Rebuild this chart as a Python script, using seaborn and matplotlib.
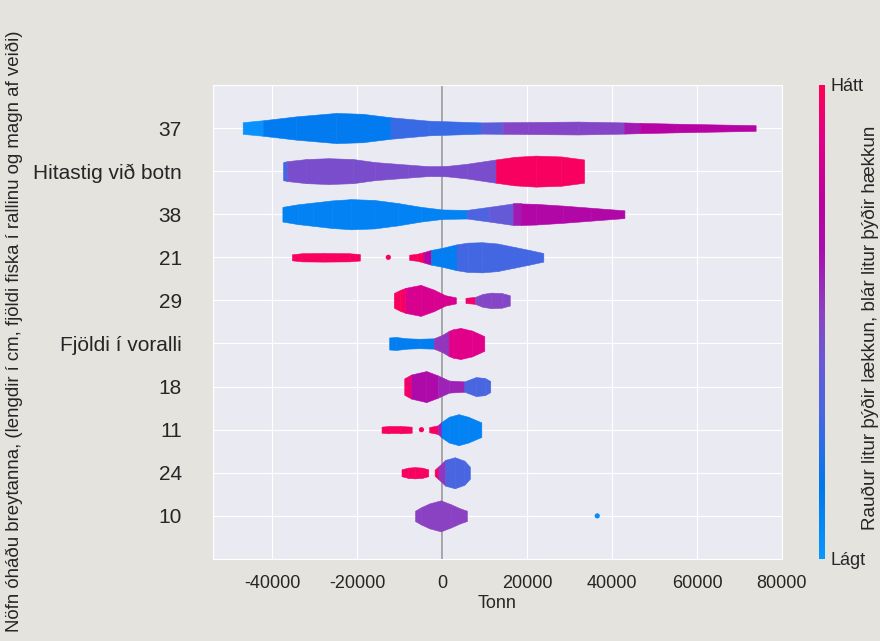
import numpy as np
import pandas as pd
import seaborn as sns
import matplotlib.pyplot as plt
from matplotlib.colors import LinearSegmentedColormap
from matplotlib.cm import ScalarMappable

# features, top to bottom
breytur = ["37", "Hitastig við botn", "38", "21", "29",
           "Fjöldi í voralli", "18", "11", "24", "10"]

# violin outline per feature: list of pieces, Tonn positions of the knots
tonn = {
    "37": [[-47000, -42200, -34400, -25000, -18800, -12200, -3200, 9200, 14300,
            20200, 31900, 42800, 46500, 55300, 73800]],
    "Hitastig við botn": [[-37500, -36600, -32000, -26800, -21000, -15900, -8000,
                           -3260, 1000, 5800, 12600, 17000, 22000, 28000, 33400]],
    "38": [[-37650, -34000, -30400, -26000, -21400, -16000, -10500, -5000, 0,
            5800, 11000, 16650, 18500, 22000, 28400, 35000, 42900]],
    "21": [[-35400, -33000, -28000, -22000, -19400],
           [-7800, -6000, -4400, -2700, 0, 3350, 6000, 9400, 13000, 17000, 20500, 23800]],
    "29": [[-11400, -10000, -8700, -5100, -2000, 700, 3200],
           [5460, 7700, 9500, 11500, 14000, 15900]],
    "Fjöldi í voralli": [[-12500, -10900, -8200, -5500, -2000, 0, 1500, 2500, 4300, 7000, 9900]],
    "18": [[-8950, -7300, -3760, -1070, 1600, 5200, 7900, 10000, 11300]],
    "11": [[-14300, -12500, -10000, -7200],
           [-3100, -1070, -180, 1600, 3850, 6100, 9200]],
    "24": [[-9600, -8000, -6450, -4800, -3300],
           [-1800, -900, 720, 2950, 5200, 6500]],
    "10": [[-6400, -5000, -3000, -360, 2000, 4300, 5800]],
}

# half thickness at each knot (in row units)
breidd = {
    "37": [[0.135, 0.18, 0.27, 0.35, 0.33, 0.25, 0.17, 0.13, 0.135,
            0.14, 0.15, 0.13, 0.12, 0.10, 0.066]],
    "Hitastig við botn": [[0.21, 0.23, 0.28, 0.30, 0.28, 0.21, 0.15,
                           0.115, 0.12, 0.17, 0.27, 0.33, 0.36, 0.34, 0.27]],
    "38": [[0.17, 0.23, 0.27, 0.32, 0.35, 0.33, 0.26, 0.17, 0.11,
            0.10, 0.17, 0.25, 0.25, 0.24, 0.2, 0.15, 0.09]],
    "21": [[0.07, 0.095, 0.1, 0.095, 0.075],
           [0.06, 0.08, 0.12, 0.17, 0.22, 0.3, 0.34, 0.35, 0.32, 0.24, 0.17, 0.1]],
    "29": [[0.17, 0.24, 0.29, 0.36, 0.25, 0.12, 0.07],
           [0.06, 0.08, 0.15, 0.18, 0.17, 0.12]],
    "Fjöldi í voralli": [[0.14, 0.15, 0.12, 0.11, 0.12, 0.2, 0.29, 0.33, 0.36, 0.3, 0.17]],
    "18": [[0.19, 0.28, 0.36, 0.26, 0.14, 0.12, 0.22, 0.2, 0.13]],
    "11": [[0.07, 0.085, 0.085, 0.07],
           [0.06, 0.1, 0.18, 0.3, 0.36, 0.3, 0.17]],
    "24": [[0.08, 0.12, 0.13, 0.12, 0.08],
           [0.07, 0.15, 0.3, 0.36, 0.28, 0.14]],
    "10": [[0.12, 0.2, 0.29, 0.36, 0.27, 0.17, 0.12]],
}

# feature value (0 = low, 1 = high) between consecutive knots
gildi = {
    "37": [[0.02, 0.13, 0.13, 0.13, 0.13, 0.27, 0.27, 0.38, 0.5, 0.5, 0.5, 0.62, 0.72, 0.72]],
    "Hitastig við botn": [[0.3] + [0.47] * 9 + [0.97] * 4],
    "38": [[0.1] * 9 + [0.33, 0.4, 0.62, 0.7, 0.7, 0.7, 0.7]],
    "21": [[0.97] * 4,
           [0.97, 0.97, 0.72, 0.12, 0.12] + [0.3] * 6],
    "29": [[0.97, 0.97, 0.85, 0.85, 0.85, 0.85],
           [0.95, 0.5, 0.5, 0.5, 0.5]],
    "Fjöldi í voralli": [[0.12] * 4 + [0.55, 0.55, 0.88, 0.88, 0.88, 0.88]],
    "18": [[0.95, 0.68, 0.68, 0.6, 0.6, 0.32, 0.32, 0.32]],
    "11": [[0.97] * 3,
           [0.97, 0.6, 0.1, 0.1, 0.1, 0.1]],
    "24": [[0.97] * 4,
           [0.97, 0.55, 0.32, 0.32, 0.32]],
    "10": [[0.52] * 6],
}

# single isolated points
punktar = pd.DataFrame({
    "breyta": ["21", "11", "10"],
    "tonn": [-12700, -4900, 36500],
    "gildi": [0.97, 0.97, 0.05],
})

litir = LinearSegmentedColormap.from_list("shap_rb", [
    (0.0, "#0a96ff"), (0.15, "#0077ec"), (0.3, "#4467e2"), (0.42, "#6a58d6"),
    (0.52, "#8a42c2"), (0.65, "#a80fae"), (0.75, "#bb00a0"), (0.88, "#e0008a"),
    (1.0, "#ff0052")])

sns.set_style("darkgrid")
plt.rcParams["font.family"] = ["Liberation Sans", "DejaVu Sans"]

fig = plt.figure(figsize=(8.8, 6.41), dpi=100, facecolor="#e4e3de")
ax = fig.add_axes([0.242, 0.128, 0.6466, 0.7395])

n = len(breytur)
ypos = {b: n - 1 - i for i, b in enumerate(breytur)}

ax.axvline(0, color="#999999", lw=1.2, zorder=2)

for b in breytur:
    y = ypos[b]
    for xs, ws, cs in zip(tonn[b], breidd[b], gildi[b]):
        xs = np.array(xs, dtype=float)
        ws = np.array(ws)
        for j in range(len(xs) - 1):
            c = litir(cs[j])
            ax.fill_between(xs[j:j + 2], y - ws[j:j + 2], y + ws[j:j + 2],
                            color=c, ec=c, lw=0.4, zorder=3)

punktar["y"] = punktar["breyta"].map(ypos)
ax.scatter(punktar["tonn"], punktar["y"], c=litir(punktar["gildi"].values),
           s=14, lw=0, zorder=4)

ax.set_xlim(-54000, 80000)
ax.set_ylim(-1, n)
ax.set_xticks([-40000, -20000, 0, 20000, 40000, 60000, 80000])
ax.set_xticklabels(["-40000", "-20000", "0", "20000", "40000", "60000", "80000"])
ax.set_yticks([ypos[b] for b in breytur])
ax.set_yticklabels(breytur)
ax.tick_params(axis="y", labelsize=15, pad=19)
ax.tick_params(axis="x", labelsize=13, pad=8)
ax.set_xlabel("Tonn", fontsize=13, labelpad=2)
fig.text(0.016, 0.4836, "Nöfn óháðu breytanna, (lengdir í cm, fjöldi fiska í rallinu og magn af veiði)",
         rotation=90, fontsize=13.4, ha="center", va="center", color=".15")

# colour bar
cax = fig.add_axes([0.9307, 0.128, 0.0063, 0.7395])
cb = fig.colorbar(ScalarMappable(cmap=litir), cax=cax, ticks=[0, 1])
cb.set_ticklabels(["Lágt", "Hátt"])
cb.outline.set_visible(False)
cax.tick_params(length=0, labelsize=13, pad=4)
fig.text(0.9895, 0.488, "Rauður litur þýðir lækkun, blár litur þýðir hækkun",
         rotation=90, fontsize=13.6, ha="center", va="center", color=".15")

fig.savefig("out.png", dpi=100, facecolor=fig.get_facecolor())
